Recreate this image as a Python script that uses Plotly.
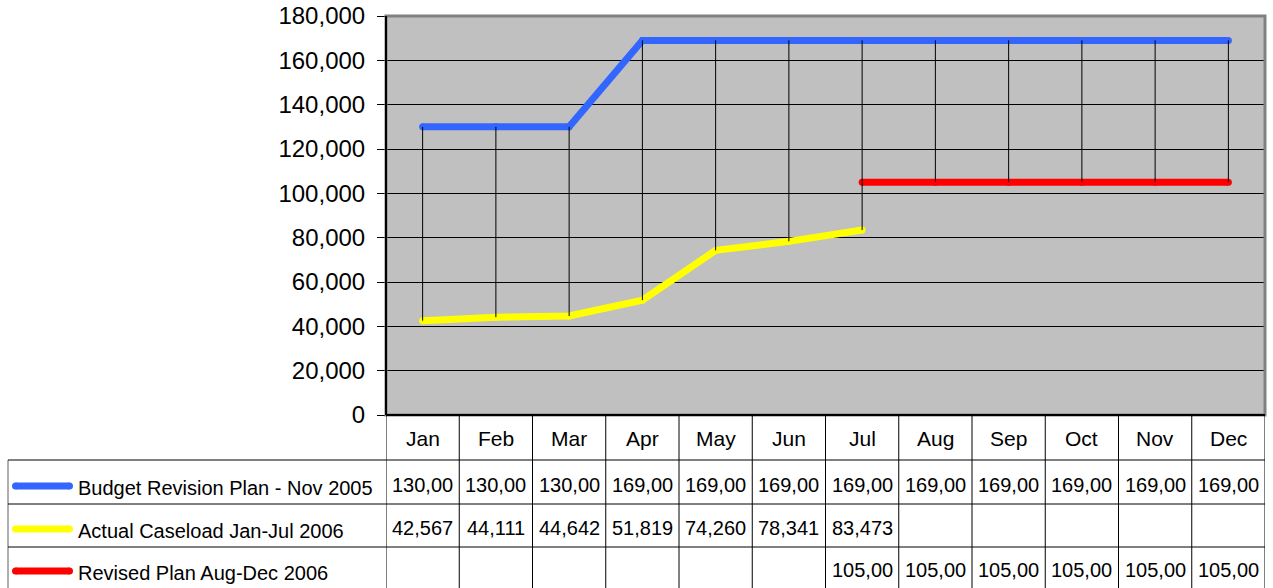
import plotly.graph_objects as go

W, H = 1273, 588

months = ["Jan", "Feb", "Mar", "Apr", "May", "Jun", "Jul", "Aug", "Sep", "Oct", "Nov", "Dec"]
budget_plan = [130000, 130000, 130000, 169000, 169000, 169000, 169000, 169000, 169000, 169000, 169000, 169000]
actual_caseload = [42567, 44111, 44642, 51819, 74260, 78341, 83473, None, None, None, None, None]
revised_plan = [None, None, None, None, None, None, 105000, 105000, 105000, 105000, 105000, 105000]

series_names = ["Budget Revision Plan - Nov 2005", "Actual Caseload Jan-Jul 2006", "Revised Plan Aug-Dec 2006"]
series_values = [budget_plan, actual_caseload, revised_plan]
series_colors = ["#3366FF", "#FFFF00", "#FF0000"]

y_ticks = [0, 20000, 40000, 60000, 80000, 100000, 120000, 140000, 160000, 180000]

# layout geometry (screen pixels)
PL, PR, PT, PB = 386, 1265, 16, 415
ROW_LINES = [460, 504, 547]
ROW_CENTERS = [483, 526, 568]
HEADER_CENTER = 438
TABLE_LEFT = 8
BOTTOM = 588


def px(x):
    return x / W


def py(y):
    return 1 - y / H


FONT = "Liberation Sans, Arial, sans-serif"
TFONT = dict(family=FONT, size=20, color="black")
MFONT = dict(family=FONT, size=21, color="black")

fig = go.Figure()

xs = list(range(len(months)))

for name, vals, col in zip(series_names, series_values, series_colors):
    fig.add_trace(go.Scatter(
        x=xs, y=vals, mode="lines+markers", name=name,
        line=dict(color=col, width=7),
        marker=dict(color=col, size=7, line=dict(width=0)),
        connectgaps=False, showlegend=False, hoverinfo="skip",
    ))

# high-low lines
hl_x, hl_y = [], []
for i in xs:
    present = [v[i] for v in series_values if v[i] is not None]
    if len(present) >= 2:
        hl_x += [i, i, None]
        hl_y += [max(present), min(present), None]
fig.add_trace(go.Scatter(x=hl_x, y=hl_y, mode="lines",
                         line=dict(color="black", width=1),
                         showlegend=False, hoverinfo="skip"))

shapes = []
shapes.append(dict(type="rect", xref="paper", yref="paper",
                   x0=px(PL), x1=px(PR), y0=py(PB), y1=py(PT),
                   fillcolor="#C0C0C0", line=dict(width=0), layer="below"))
shapes.append(dict(type="rect", xref="paper", yref="paper",
                   x0=px(PL), x1=px(PR), y0=py(PB), y1=py(PT),
                   line=dict(color="#808080", width=3), layer="above"))
shapes.append(dict(type="line", xref="paper", yref="paper",
                   x0=px(PL), x1=px(PL), y0=py(PB), y1=py(PT),
                   line=dict(color="black", width=2)))
shapes.append(dict(type="line", xref="paper", yref="paper",
                   x0=px(PL), x1=px(PR), y0=py(PB), y1=py(PB),
                   line=dict(color="black", width=2)))
for i in range(len(months) + 1):
    shapes.append(dict(type="line", xref="x", yref="paper",
                       x0=i - 0.5, x1=i - 0.5, y0=py(PB), y1=py(BOTTOM),
                       line=dict(color="black", width=1)))
shapes.append(dict(type="line", xref="paper", yref="paper",
                   x0=px(TABLE_LEFT), x1=px(TABLE_LEFT), y0=py(ROW_LINES[0]), y1=py(BOTTOM),
                   line=dict(color="#606060", width=1)))
for yl in ROW_LINES:
    shapes.append(dict(type="line", xref="paper", yref="paper",
                       x0=px(TABLE_LEFT), x1=px(PR), y0=py(yl), y1=py(yl),
                       line=dict(color="black", width=1)))
for k, col in enumerate(series_colors):
    yc = py(ROW_CENTERS[k] + 3)
    shapes.append(dict(type="line", xref="paper", yref="paper",
                       x0=px(15.5), x1=px(69.5), y0=yc, y1=yc,
                       line=dict(color=col, width=7)))
    for xc in (15.5, 69.5):
        shapes.append(dict(type="circle", xref="paper", yref="paper",
                           x0=px(xc - 3.5), x1=px(xc + 3.5),
                           y0=yc - 3.5 / H, y1=yc + 3.5 / H,
                           fillcolor=col, line=dict(width=0)))

annotations = []
for i, m in enumerate(months):
    annotations.append(dict(x=i, y=py(HEADER_CENTER), xref="x", yref="paper",
                            yanchor="middle", text=m, showarrow=False, font=MFONT))
for k, (name, vals) in enumerate(zip(series_names, series_values)):
    annotations.append(dict(x=px(76), y=py(ROW_CENTERS[k] + 5), xref="paper", yref="paper",
                            text=name, showarrow=False, xanchor="left", yanchor="middle",
                            font=TFONT))
    for i, v in enumerate(vals):
        if v is None:
            continue
        txt = f"{v:,}"[:6]  # cell too narrow: text clipped as in the source
        annotations.append(dict(x=i, y=py(ROW_CENTERS[k] + 2), xref="x", yref="paper",
                                yanchor="middle", text=txt, showarrow=False, font=TFONT))

fig.update_layout(
    width=W, height=H,
    margin=dict(l=0, r=0, t=0, b=0, pad=0),
    paper_bgcolor="white", plot_bgcolor="rgba(0,0,0,0)",
    showlegend=False,
    xaxis=dict(domain=[px(PL), px(PR)], range=[-0.5, 11.5], automargin=False,
               showticklabels=False, showgrid=False, zeroline=False, ticks=""),
    yaxis=dict(domain=[py(PB), py(PT)], range=[0, 180000], automargin=False,
               tickvals=y_ticks, tickformat=",d", ticklabeloverflow="allow",
               ticks="outside", ticklen=8, tickcolor="black", tickwidth=1,
               ticklabelstandoff=7,
               tickfont=dict(family=FONT, size=24, color="black"),
               showgrid=True, gridcolor="black", gridwidth=1,
               zeroline=False, showline=False),
    shapes=shapes,
    annotations=annotations,
)

fig.write_html("out.html", config={"displayModeBar": False},
               post_script="document.body.style.margin='0px';document.body.style.overflow='hidden';")
